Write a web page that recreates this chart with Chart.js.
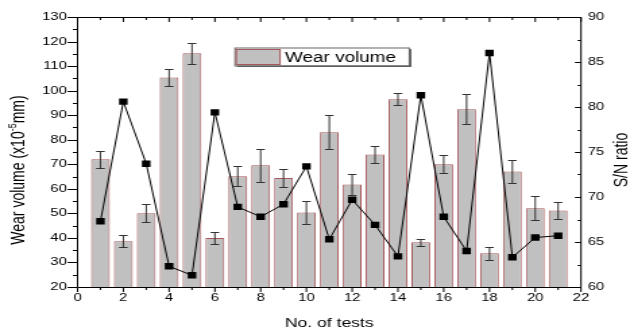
<!DOCTYPE html>
<html>
<head>
<meta charset="utf-8">
<script src="https://cdn.jsdelivr.net/npm/chart.js@4"></script>
<style>
  html, body { margin: 0; padding: 0; background: #fff; overflow: hidden; }
  /* the reference is stretched sideways, so draw narrow and widen it */
  #wrap { position: absolute; left: 0; top: 0; width: 467px; height: 332px; transform: scaleX(1.349); transform-origin: 0 0; }
</style>
</head>
<body>
<div id="wrap"><canvas id="chart"></canvas></div>
<script>
// ===== DATOS =====
const tests = [1, 2, 3, 4, 5, 6, 7, 8, 9, 10, 11, 12, 13, 14, 15, 16, 17, 18, 19, 20, 21];
const wearVolume = [72, 38.6, 50, 105.4, 115.2, 40, 65.1, 69.6, 64.4, 50.4, 83, 61.8, 74, 96.5, 38.2, 70, 92.4, 33.8, 67.1, 52.1, 51.2];
const wearError = [3.5, 2.4, 3.7, 3.5, 4.2, 2.3, 4, 6.8, 3.6, 4.6, 6.9, 4.3, 3.5, 2.4, 1.3, 3.6, 6.1, 2.6, 4.7, 5, 3.6];
const snRatio = [67.3, 80.6, 73.7, 62.3, 61.3, 79.4, 68.9, 67.8, 69.2, 73.4, 65.3, 69.7, 66.9, 63.4, 81.3, 67.8, 64.0, 86.0, 63.3, 65.5, 65.7];

const xTicks = [0, 2, 4, 6, 8, 10, 12, 14, 16, 18, 20, 22];
const wearTicks = [20, 30, 40, 50, 60, 70, 80, 90, 100, 110, 120, 130];
const snTicks = [60, 65, 70, 75, 80, 85, 90];

const FONT = "'Liberation Sans', Arial, sans-serif";
const tickFont = { family: FONT, size: 11 };

// ===== EXTRAS: barras de error, marco, ticks menores, títulos, leyenda =====
const extras = {
    id: 'extras',
    afterDatasetDraw(chart, args) {
        if (args.index !== 0) return;
        const { ctx, scales: { x, y } } = chart;
        ctx.save();
        ctx.strokeStyle = '#333';
        ctx.lineWidth = 1;
        ctx.beginPath();
        wearVolume.forEach((v, i) => {
            const px = x.getPixelForValue(tests[i]);
            const top = Math.round(y.getPixelForValue(v + wearError[i])) + 0.5;
            const bot = Math.round(y.getPixelForValue(v - wearError[i])) + 0.5;
            ctx.moveTo(px, top); ctx.lineTo(px, bot);
            ctx.moveTo(px - 3.2, top); ctx.lineTo(px + 3.2, top);
            ctx.moveTo(px - 3.2, bot); ctx.lineTo(px + 3.2, bot);
        });
        ctx.stroke();
        ctx.restore();
    },
    afterDraw(chart) {
        const { ctx, chartArea: a, scales: { x, y, y2 } } = chart;
        const top = Math.round(a.top) + 0.5, bottom = Math.round(a.bottom) + 0.5;
        ctx.save();
        ctx.strokeStyle = '#000';
        ctx.lineWidth = 1;
        ctx.beginPath();
        // marco
        ctx.moveTo(a.left, top); ctx.lineTo(a.right, top);
        ctx.moveTo(a.left, bottom); ctx.lineTo(a.right, bottom);
        ctx.moveTo(a.left, a.top); ctx.lineTo(a.left, a.bottom);
        ctx.moveTo(a.right, a.top); ctx.lineTo(a.right, a.bottom);
        // ticks eje izquierdo (hacia fuera)
        for (let v = 20; v <= 130; v += 5) {
            const py = Math.round(y.getPixelForValue(v)) + 0.5;
            const len = v % 10 === 0 ? 7.4 : 3.5;
            ctx.moveTo(a.left - len, py); ctx.lineTo(a.left, py);
        }
        // ticks eje derecho (hacia dentro)
        for (let v = 60; v <= 90; v += 2.5) {
            const py = Math.round(y2.getPixelForValue(v)) + 0.5;
            const len = v % 5 === 0 ? 4.5 : 2.5;
            ctx.moveTo(a.right - len, py); ctx.lineTo(a.right, py);
        }
        // ticks abajo (fuera) y arriba (dentro)
        for (let v = 0; v <= 22; v++) {
            const px = x.getPixelForValue(v);
            const len = v % 2 === 0 ? 4.5 : 2.5;
            ctx.moveTo(px, bottom); ctx.lineTo(px, bottom + len);
            ctx.moveTo(px, top); ctx.lineTo(px, top + len);
        }
        ctx.stroke();

        // títulos
        ctx.fillStyle = '#000';
        ctx.font = `13px ${FONT}`;
        ctx.textAlign = 'center';
        ctx.textBaseline = 'alphabetic';
        ctx.fillText('No. of tests', (a.left + a.right) / 2, 327);

        // título izquierdo con superíndice
        ctx.save();
        ctx.translate(14.2, 170);
        ctx.rotate(-Math.PI / 2);
        ctx.textBaseline = 'middle';
        ctx.textAlign = 'left';
        const part1 = 'Wear volume (x10', sup = '-5', part2 = 'mm)';
        ctx.font = `14px ${FONT}`;
        const w1 = ctx.measureText(part1).width, w3 = ctx.measureText(part2).width;
        ctx.font = `9px ${FONT}`;
        const w2 = ctx.measureText(sup).width;
        let cx = -(w1 + w2 + w3) / 2;
        ctx.font = `14px ${FONT}`;
        ctx.fillText(part1, cx, 0); cx += w1;
        ctx.font = `9px ${FONT}`;
        ctx.fillText(sup, cx, -4.5); cx += w2;
        ctx.font = `14px ${FONT}`;
        ctx.fillText(part2, cx, 0);
        ctx.restore();

        // título derecho
        ctx.save();
        ctx.translate(460.7, 160);
        ctx.rotate(-Math.PI / 2);
        ctx.textAlign = 'center';
        ctx.textBaseline = 'middle';
        ctx.font = `14px ${FONT}`;
        ctx.fillText('S/N ratio', 0, 0);
        ctx.restore();

        // leyenda
        const lx = 174.2, ly = 47.5, lw = 129.2, lh = 18;
        ctx.fillStyle = '#555';
        ctx.fillRect(lx + 1.5, ly + 1.5, lw, lh);
        ctx.fillStyle = '#fff';
        ctx.fillRect(lx, ly, lw, lh);
        ctx.strokeStyle = '#666';
        ctx.strokeRect(lx, ly + 0.5, lw, lh);
        ctx.fillStyle = '#c0c0c0';
        ctx.fillRect(175.2, 49.5, 32.4, 15);
        ctx.strokeStyle = '#a5585b';
        ctx.strokeRect(175.2, 49.5, 32.4, 15);
        ctx.fillStyle = '#000';
        ctx.textAlign = 'left';
        ctx.textBaseline = 'alphabetic';
        ctx.font = `14px ${FONT}`;
        ctx.fillText('Wear volume', 211.3, 61.5);
        ctx.restore();
    }
};

// ===== CHART =====
const ctx = document.getElementById('chart').getContext('2d');
new Chart(ctx, {
    type: 'bar',
    data: {
        datasets: [
            {
                type: 'bar', label: 'Wear volume',
                data: tests.map((t, i) => ({ x: t, y: wearVolume[i] })),
                backgroundColor: '#c0c0c0', borderColor: '#a5585b', borderWidth: 1,
                barPercentage: 0.82, categoryPercentage: 1,
                xAxisID: 'x', yAxisID: 'y', order: 1
            },
            {
                type: 'line', label: 'S/N ratio',
                data: tests.map((t, i) => ({ x: t, y: snRatio[i] })),
                borderColor: '#000', borderWidth: 1, backgroundColor: '#000',
                pointStyle: 'rect', pointRadius: 4.5, pointBorderWidth: 0, tension: 0,
                xAxisID: 'x', yAxisID: 'y2', order: 0
            }
        ]
    },
    options: {
        responsive: true, maintainAspectRatio: false, animation: false,
        layout: { padding: { top: 17, left: 0, right: 0, bottom: 0 } },
        plugins: { legend: { display: false }, tooltip: { enabled: false } },
        scales: {
            x: {
                type: 'linear', min: 0, max: 22, offset: false,
                grid: { display: false, drawTicks: false }, border: { display: false },
                afterBuildTicks: s => { s.ticks = xTicks.map(v => ({ value: v })); },
                afterFit: s => { s.height = 45; },
                ticks: { padding: 4, font: tickFont, color: '#000', maxRotation: 0, autoSkip: false }
            },
            y: {
                position: 'left', min: 20, max: 130,
                grid: { display: false, drawTicks: false }, border: { display: false },
                afterBuildTicks: s => { s.ticks = wearTicks.map(v => ({ value: v })); },
                afterFit: s => { s.width = 57.5; },
                ticks: { padding: 8, font: tickFont, color: '#000', autoSkip: false }
            },
            y2: {
                position: 'right', min: 60, max: 90,
                grid: { display: false, drawTicks: false }, border: { display: false },
                afterBuildTicks: s => { s.ticks = snTicks.map(v => ({ value: v })); },
                afterFit: s => { s.width = 36.3; },
                ticks: { padding: 5, font: tickFont, color: '#000', autoSkip: false }
            }
        }
    },
    plugins: [extras]
});
</script>
</body>
</html>
